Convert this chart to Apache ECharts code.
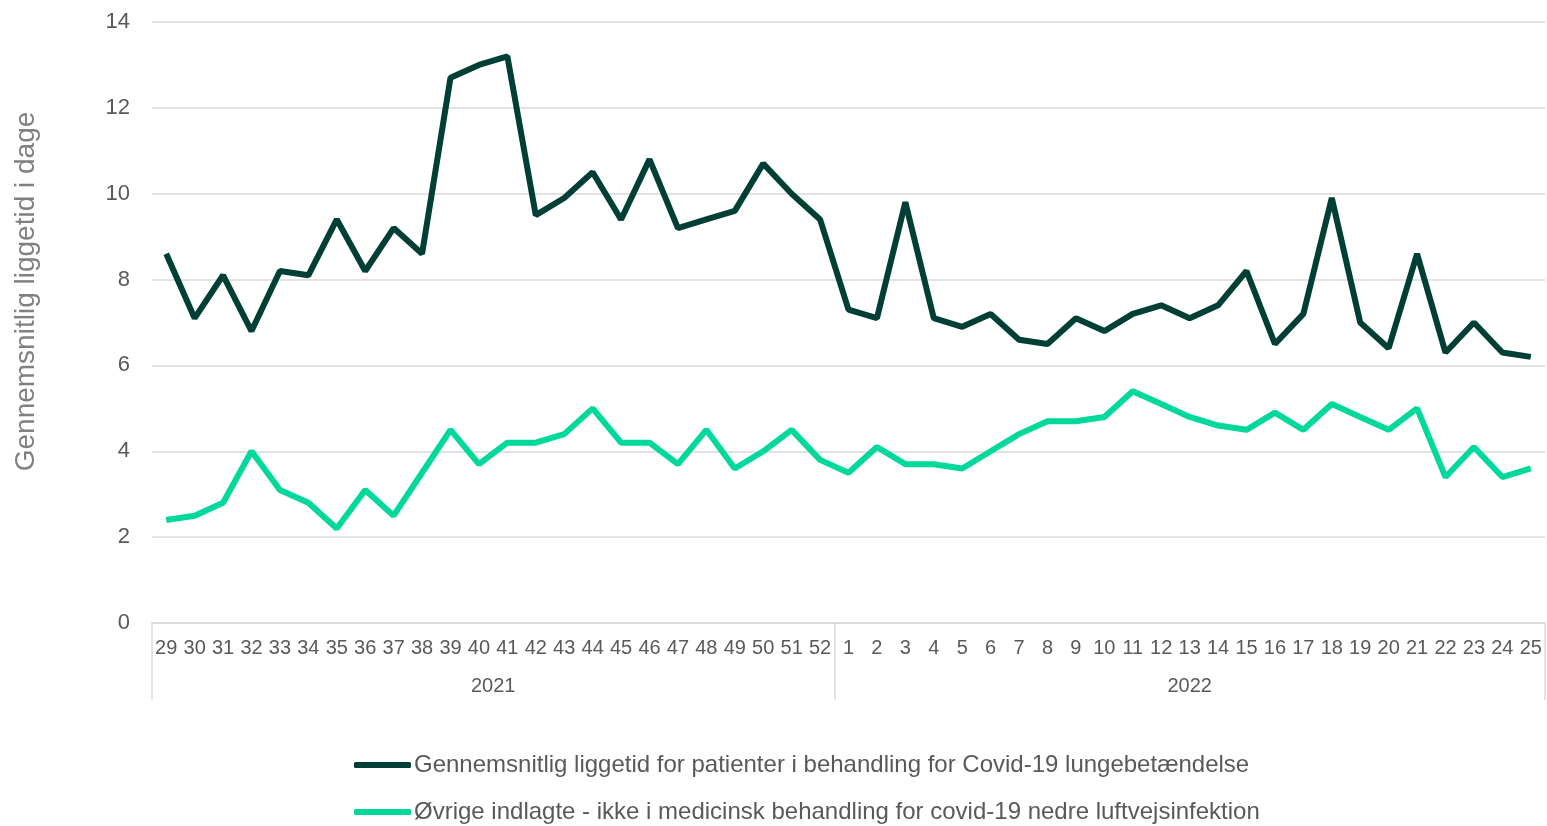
<!DOCTYPE html>
<html>
<head>
<meta charset="utf-8">
<script src="https://cdn.jsdelivr.net/npm/echarts@6/dist/echarts.min.js"></script>
<style>
  html, body { margin: 0; padding: 0; background: #fff; }
  #chart { width: 1547px; height: 826px; }
</style>
</head>
<body>
<div id="chart"></div>
<script>
  // weeks per year
  const years = ['2021', '2022'];
  const weeks2021 = ['29', '30', '31', '32', '33', '34', '35', '36', '37', '38', '39', '40',
    '41', '42', '43', '44', '45', '46', '47', '48', '49', '50', '51', '52'];
  const weeks2022 = ['1', '2', '3', '4', '5', '6', '7', '8', '9', '10', '11', '12', '13',
    '14', '15', '16', '17', '18', '19', '20', '21', '22', '23', '24', '25'];
  const weeks = weeks2021.concat(weeks2022);

  const seriesNames = [
    'Gennemsnitlig liggetid for patienter i behandling for Covid-19 lungebetændelse',
    'Øvrige indlagte - ikke i medicinsk behandling for covid-19 nedre luftvejsinfektion'
  ];
  const covidValues = [8.6, 7.1, 8.1, 6.8, 8.2, 8.1, 9.4, 8.2, 9.2, 8.6, 12.7, 13.0,
    13.2, 9.5, 9.9, 10.5, 9.4, 10.8, 9.2, 9.4, 9.6, 10.7, 10.0, 9.4,
    7.3, 7.1, 9.8, 7.1, 6.9, 7.2, 6.6, 6.5, 7.1, 6.8, 7.2, 7.4, 7.1,
    7.4, 8.2, 6.5, 7.2, 9.9, 7.0, 6.4, 8.6, 6.3, 7.0, 6.3, 6.2];
  const otherValues = [2.4, 2.5, 2.8, 4.0, 3.1, 2.8, 2.2, 3.1, 2.5, 3.5, 4.5, 3.7,
    4.2, 4.2, 4.4, 5.0, 4.2, 4.2, 3.7, 4.5, 3.6, 4.0, 4.5, 3.8,
    3.5, 4.1, 3.7, 3.7, 3.6, 4.0, 4.4, 4.7, 4.7, 4.8, 5.4, 5.1, 4.8,
    4.6, 4.5, 4.9, 4.5, 5.1, 4.8, 4.5, 5.0, 3.4, 4.1, 3.4, 3.6];

  const yTicks = [0, 2, 4, 6, 8, 10, 12, 14];

  // group boundaries and centres on a 0..n band scale
  const groupSizes = [weeks2021.length, weeks2022.length];
  const bounds = [0];
  groupSizes.forEach(s => bounds.push(bounds[bounds.length - 1] + s));
  const centres = groupSizes.map((s, i) => bounds[i] + s / 2);

  const font = 'Liberation Sans, Arial, sans-serif';
  const chart = echarts.init(document.getElementById('chart'), null, { renderer: 'canvas' });

  chart.setOption({
    animation: false,
    textStyle: { fontFamily: font },
    grid: { left: 152, right: 2, top: 22, bottom: 203 },
    legend: {
      orient: 'vertical',
      left: 354,
      top: 753,
      height: 90,
      padding: 0,
      icon: 'roundRect',
      itemWidth: 57,
      itemHeight: 6,
      itemGap: 23,
      textStyle: { fontSize: 24, lineHeight: 24, color: '#595959', fontFamily: font, padding: [0, 0, 0, -2] },
      data: seriesNames
    },
    xAxis: [
      {
        type: 'category',
        data: weeks,
        boundaryGap: true,
        axisLine: { lineStyle: { color: '#d9d9d9', width: 1.5 } },
        axisTick: {
          show: true,
          length: 77,
          interval: (i) => bounds.indexOf(i) !== -1,
          lineStyle: { color: '#d9d9d9', width: 1.5 }
        },
        axisLabel: { interval: 0, fontSize: 20, color: '#595959', margin: 15 }
      },
      {
        type: 'value',
        min: 0,
        max: weeks.length,
        position: 'bottom',
        axisLine: { show: false },
        axisTick: { show: false },
        splitLine: { show: false },
        axisLabel: {
          customValues: centres,
          formatter: (v) => years[centres.indexOf(v)] || '',
          fontSize: 20,
          color: '#595959',
          margin: 53
        }
      }
    ],
    yAxis: {
      type: 'value',
      min: yTicks[0],
      max: yTicks[yTicks.length - 1],
      interval: 2,
      name: 'Gennemsnitlig liggetid i dage',
      nameLocation: 'middle',
      nameGap: 112,
      nameTextStyle: { fontSize: 28, color: '#808080', padding: [0, 0, 0, 62] },
      axisLine: { show: false },
      axisTick: { show: false },
      axisLabel: { fontSize: 22, color: '#595959', margin: 22 },
      splitLine: { lineStyle: { color: '#d9d9d9', width: 1.5 } }
    },
    series: [
      {
        name: seriesNames[0],
        type: 'line',
        data: covidValues,
        symbol: 'none',
        lineStyle: { color: '#003f36', width: 6 },
        itemStyle: { color: '#003f36' }
      },
      {
        name: seriesNames[1],
        type: 'line',
        data: otherValues,
        symbol: 'none',
        lineStyle: { color: '#00d99b', width: 6 },
        itemStyle: { color: '#00d99b' }
      }
    ]
  });
</script>
</body>
</html>
